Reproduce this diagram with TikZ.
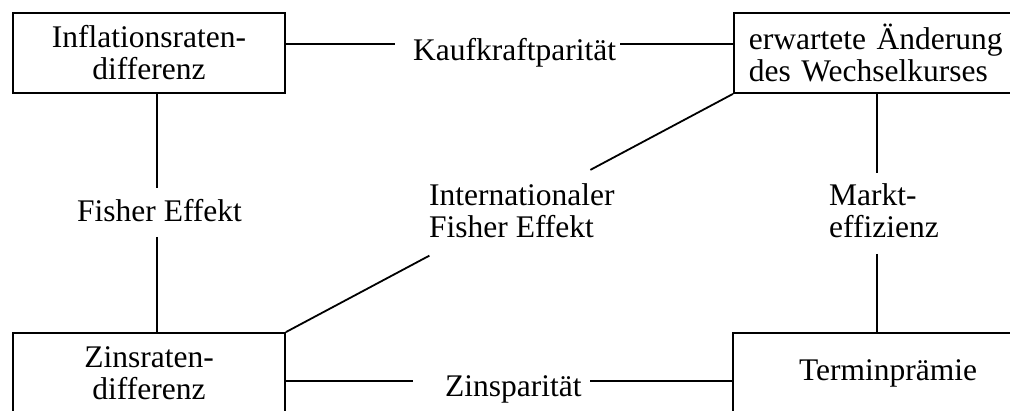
\documentclass[tikz,border=0pt]{standalone}
\usepackage{fontspec}
\setmainfont{Liberation Serif}
\usetikzlibrary{calc,positioning}
\tikzset{
  box/.style={draw=black,line width=1.8pt,inner sep=0pt,minimum height=80pt,align=center,font=\fontsize{31.5}{32}\selectfont},
  lbl/.style={inner sep=0pt,align=left,font=\fontsize{31.5}{32}\selectfont},
  con/.style={black,line width=1.8pt},
}
\begin{document}
\begin{tikzpicture}[x=1pt,y=1pt]
  \useasboundingbox (0,0) rectangle (1010,411);
  \clip (0,0) rectangle (1010,411);
  % the four boxes (right and bottom ones run past the frame)
  \node[box,minimum width=272pt] (infl) at (149,358) {Inflationsraten-\\differenz};
  \node[box,minimum width=290pt,text width=260pt,inner xsep=15pt,align=left,anchor=west] (erw) at (733,358) {erwartete Änderung\\des Wechselkurses};
  \node[box,minimum width=272pt] (zins) at (149,38) {Zinsraten-\\differenz};
  \node[box,minimum width=310pt] (term) at (888,38) {Terminprämie};
  % labels on the connectors
  \node[lbl,anchor=base west] (kauf) at (413,350) {Kaufkraftparität};
  \node[lbl,anchor=base west] (zinsp) at (445,14) {Zinsparität};
  \node[lbl,anchor=base west] (fisher) at (77,189) {Fisher Effekt};
  \node[lbl,anchor=north west] (markt) at (829,227.5) {Markt-\\effizienz};
  \node[lbl,anchor=north west] (ifish) at (429,227.5) {Internationaler\\Fisher Effekt};
  % gap ends
  \coordinate (kaufL) at (395,367);
  \coordinate (kaufR) at (620,367);
  \coordinate (zinspL) at (413,30);
  \coordinate (zinspR) at (590,30);
  \coordinate (fishT) at (157,223);
  \coordinate (fishB) at (157,174);
  \coordinate (marktT) at (877,238);
  \coordinate (marktB) at (877,157);
  \path (zins.north east) -- coordinate[pos=0.321] (ifishB) coordinate[pos=0.681] (ifishT) (erw.south west);
  % connectors
  \draw[con] (infl.east |- kaufL) -- (kaufL);
  \draw[con] (kaufR) -- (erw.west |- kaufR);
  \draw[con] (zins.east |- zinspL) -- (zinspL);
  \draw[con] (zinspR) -- (term.west |- zinspR);
  \draw[con] (infl.south -| fishT) -- (fishT);
  \draw[con] (fishB) -- (zins.north -| fishB);
  \draw[con] (erw.south -| marktT) -- (marktT);
  \draw[con] (marktB) -- (term.north -| marktB);
  \draw[con] (zins.north east) -- (ifishB);
  \draw[con] (ifishT) -- (erw.south west);
\end{tikzpicture}
\end{document}
